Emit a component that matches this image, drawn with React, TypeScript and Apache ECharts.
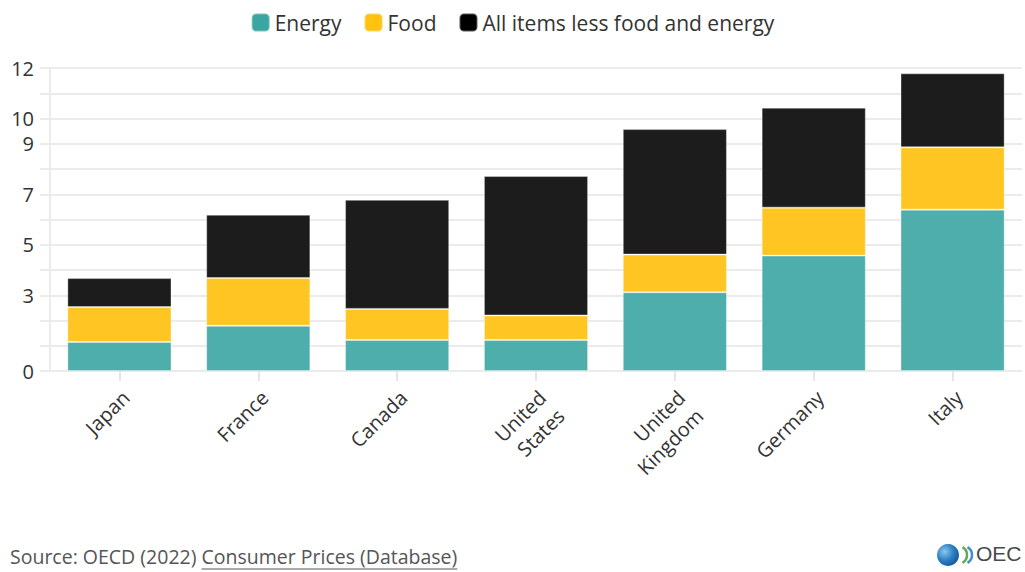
import React, { useEffect, useRef } from "react";
import * as echarts from "echarts";

const categories = ["Japan", "France", "Canada", "United\nStates", "United\nKingdom", "Germany", "Italy"];
const energy = [1.15, 1.79, 1.23, 1.23, 3.12, 4.57, 6.39];
const food = [1.38, 1.89, 1.23, 0.97, 1.49, 1.9, 2.47];
const core = [1.15, 2.51, 4.32, 5.52, 4.97, 3.96, 2.93];
const yTickLabels = [0, 3, 5, 7, 9, 10, 12];
const seriesNames = ["Energy", "Food", "All items less food and energy"];

const FONT = "'Open Sans', 'Noto Sans', sans-serif";
const SRC_PREFIX = "Source: OECD (2022) ";
const SRC_LINK = "Consumer Prices (Database)";

function measure(text: string, size: number): number {
  const c = document.createElement("canvas").getContext("2d");
  if (!c) return text.length * size * 0.5;
  c.font = `${size}px 'Open Sans'`;
  return c.measureText(text).width;
}

export default function App() {
  const ref = useRef<HTMLDivElement>(null);
  useEffect(() => {
    if (!ref.current) return;
    const chart = echarts.init(ref.current, null, { renderer: "svg" });
    const barColors = ["#4DAEAB", "#FFC523", "#1C1C1C"];
    const legendColors = ["#3AA6A2", "#FFC20E", "#000000"];
    const dataSets = [energy, food, core];
    const srcSize = 19.5;
    const w1 = measure(SRC_PREFIX, srcSize);
    const w2 = measure(SRC_LINK, srcSize);
    chart.setOption({
      animation: false,
      textStyle: { fontFamily: FONT },
      legend: {
        top: 7,
        left: "center",
        itemWidth: 18,
        itemHeight: 18,
        itemGap: 22,
        icon: "roundRect",
        textStyle: { fontSize: 21, color: "#333", fontFamily: FONT },
        data: seriesNames.map((n, i) => ({ name: n, itemStyle: { color: legendColors[i], opacity: 1 } })),
      },
      grid: { left: 50, right: 3, top: 68, bottom: 201, containLabel: false },
      xAxis: {
        type: "category",
        data: categories,
        axisLine: { show: false },
        axisTick: { show: true, alignWithLabel: true, length: 10, lineStyle: { color: "#e6e6e6", width: 2 } },
        axisLabel: {
          rotate: 45,
          fontSize: 20,
          color: "#333",
          fontFamily: FONT,
          margin: 11,
          lineHeight: 26,
          interval: 0,
          verticalAlign: "top",
          padding: [0, 4, 0, 0],
        },
      },
      yAxis: {
        type: "value",
        min: 0,
        max: 12,
        interval: 1,
        axisLine: { show: true, lineStyle: { color: "#ebebeb", width: 2 } },
        axisTick: { show: true, length: 10, lineStyle: { color: "#ebebeb", width: 2 } },
        splitLine: { show: true, lineStyle: { color: "#ebebeb", width: 2 } },
        axisLabel: {
          fontSize: 20,
          color: "#333",
          fontFamily: FONT,
          margin: 16,
          formatter: (v: number) => (yTickLabels.includes(v) ? String(v) : ""),
        },
      },
      series: dataSets.map((d, i) => ({
        name: seriesNames[i],
        type: "bar",
        stack: "total",
        barWidth: "75%",
        data: d,
        itemStyle: {
          color: barColors[i],
          borderColor: "rgba(255,255,255,0.35)",
          borderWidth: 1,
        },
        emphasis: { disabled: true },
      })),
      graphic: [
        {
          type: "text",
          left: 10,
          top: 546,
          style: { text: SRC_PREFIX, fontSize: srcSize, fill: "#555", fontFamily: FONT },
        },
        {
          type: "text",
          left: 10 + w1,
          top: 546,
          style: { text: SRC_LINK, fontSize: srcSize, fill: "#555", fontFamily: FONT },
        },
        {
          type: "line",
          shape: { x1: 10 + w1, y1: 569, x2: 10 + w1 + w2, y2: 569 },
          style: { stroke: "#555", lineWidth: 1 },
        },
        {
          type: "circle",
          shape: { cx: 948, cy: 555, r: 11 },
          style: {
            fill: new echarts.graphic.RadialGradient(0.35, 0.35, 0.8, [
              { offset: 0, color: "#8cc8ee" },
              { offset: 0.5, color: "#2b7fc2" },
              { offset: 1, color: "#0d4d8f" },
            ]),
          },
        },
        {
          type: "arc",
          shape: { cx: 958, cy: 555, r: 9, startAngle: -Math.PI / 3, endAngle: Math.PI / 3 },
          style: { stroke: "#6aa84f", lineWidth: 2.5, fill: "none" },
        },
        {
          type: "arc",
          shape: { cx: 963, cy: 555, r: 9, startAngle: -Math.PI / 3, endAngle: Math.PI / 3 },
          style: { stroke: "#3f8fd0", lineWidth: 2.5, fill: "none" },
        },
        {
          type: "text",
          left: 976,
          top: 543,
          style: { text: "OEC", fontSize: 21, fill: "#4a4a4a", fontFamily: "'Liberation Sans', Arial, sans-serif" },
        },
      ],
    });
    return () => chart.dispose();
  }, []);
  return (
    <div
      ref={ref}
      style={{ position: "fixed", left: 0, top: 0, width: 1025, height: 572, background: "#fff" }}
    />
  );
}
